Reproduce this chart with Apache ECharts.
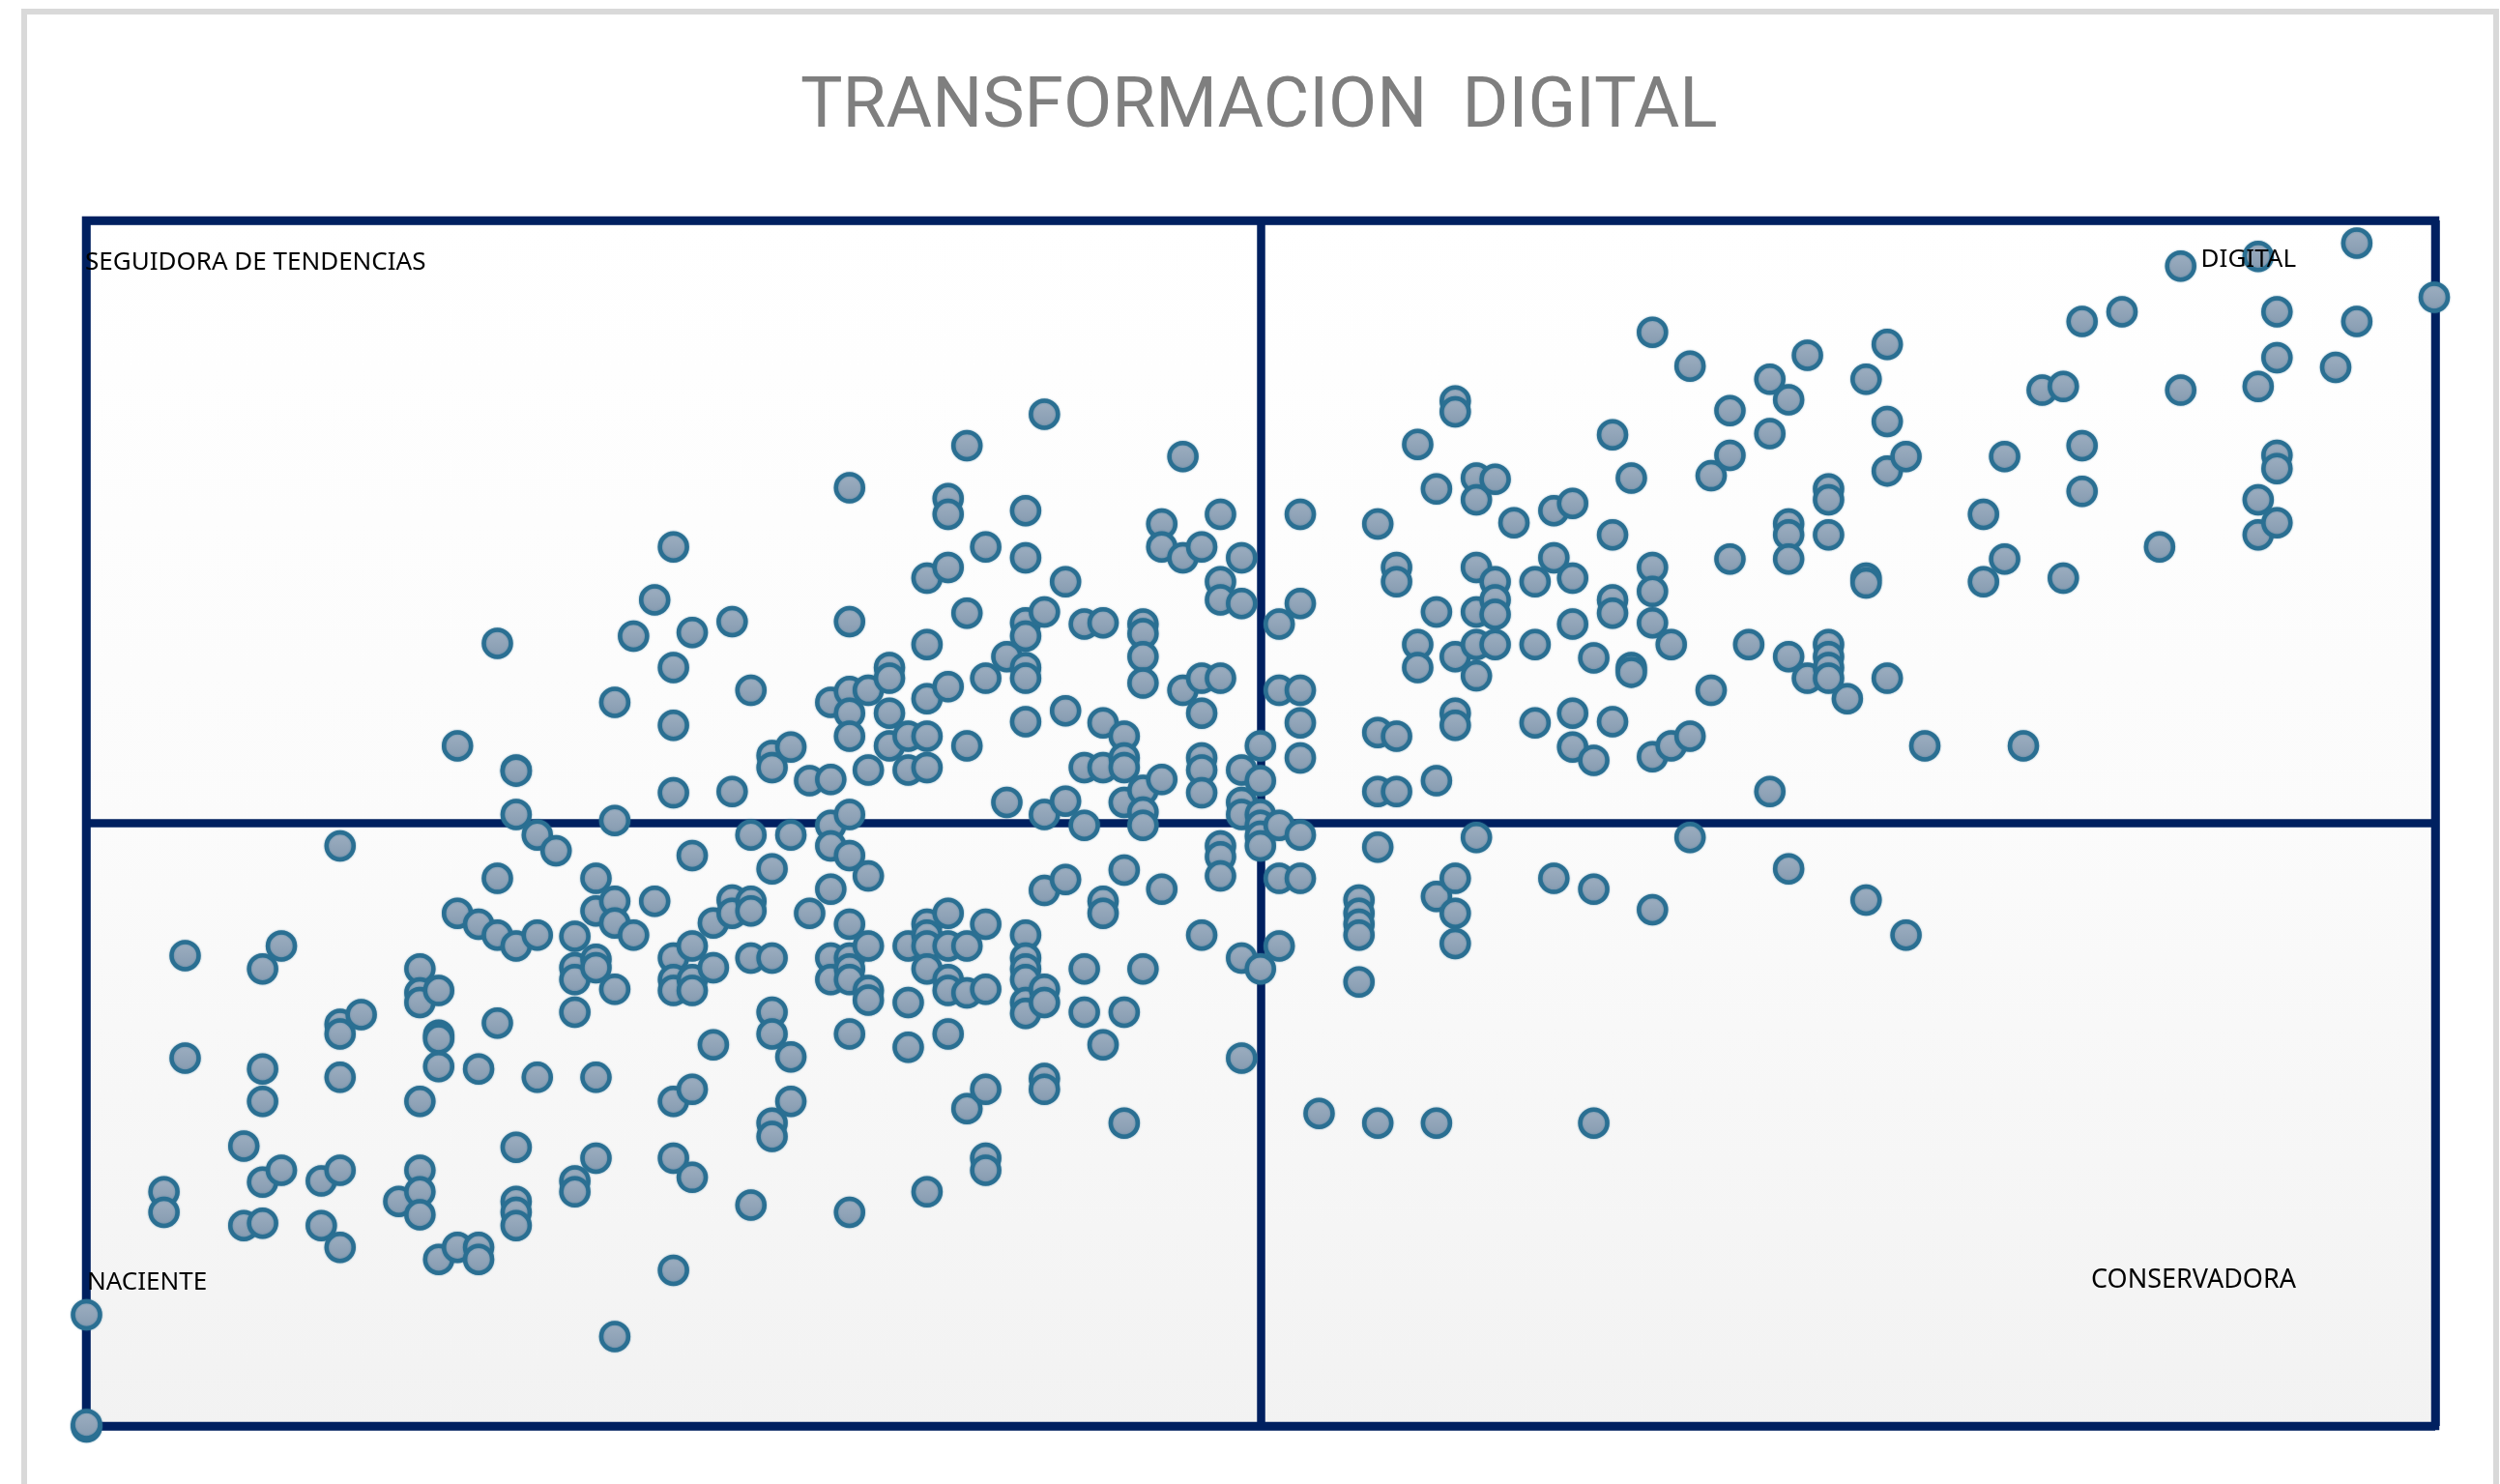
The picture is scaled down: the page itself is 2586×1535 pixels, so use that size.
<!DOCTYPE html>
<html>
<head>
<meta charset="utf-8">
<title>TRANSFORMACION DIGITAL</title>
<script src="https://cdn.jsdelivr.net/npm/echarts@6/dist/echarts.min.js"></script>
<style>
  html, body { margin: 0; padding: 0; background: #fff; }
  #chart { width: 2586px; height: 1535px; }
</style>
</head>
<body>
<div id="chart"></div>
<script>
// puntaje horizontal de cada columna de puntos (0-100)
const columnX = [
  0, 3.3, 4.2, 6.7, 7.5, 8.3, 10, 10.8, 11.7, 13.3, 14.2, 15, 15.8, 16.7, 17.5, 18.3, 19.2, 20, 20.8, 21.7,
  22.5, 23.3, 24.2, 25, 25.8, 26.7, 27.5, 28.3, 29.2, 30, 30.8, 31.7, 32.5, 33.3, 34.2, 35, 35.8, 36.7, 37.5, 38.3,
  39.2, 40, 40.8, 41.7, 42.5, 43.3, 44.2, 45, 45.8, 46.7, 47.5, 48.3, 49.2, 50, 50.8, 51.7, 52.5, 54.2, 55, 55.8,
  56.7, 57.5, 58.3, 59.2, 60, 60.8, 61.7, 62.5, 63.3, 64.2, 65, 65.8, 66.7, 67.5, 68.3, 69.2, 70, 70.8, 71.7, 72.5,
  73.3, 74.2, 75, 75.8, 76.7, 77.5, 78.3, 80.8, 81.7, 82.5, 83.3, 84.2, 85, 86.7, 88.3, 89.2, 92.5, 93.3, 95.8, 96.7, 100
]
// puntaje vertical de los puntos de cada columna, en el mismo orden
const columnY = [
  [9.3, 0, 0.2], [19.5, 17.8], [39.1, 30.6], [23.3, 16.7], [38, 29.7, 27, 20.3, 16.9], [39.9, 21.3], [20.4, 16.7],
  [48.2, 33.4, 32.6, 29, 21.3, 14.9], [34.2], [18.7], [38, 36, 35.2, 27, 21.3, 19.5, 17.6], [36.2, 32.5, 32.2, 29.9, 13.9],
  [56.5, 42.6, 14.9], [41.7, 29.7, 14.9, 13.9], [65, 45.5, 40.8, 33.5], [54.5, 54.4, 50.8, 39.9, 23.2, 18.7, 17.8, 16.7],
  [49.1, 40.8, 29], [47.8], [40.7, 38.1, 37.1, 34.4, 20.4, 19.5], [45.5, 42.8, 38.8, 38.1, 29, 22.3],
  [60.1, 50.3, 43.6, 41.8, 36.3, 7.5], [65.6, 40.8], [68.6, 43.6], [73, 63, 58.2, 52.6, 38.9, 37.1, 36.2, 27, 22.3, 13],
  [65.9, 47.4, 39.9, 37.1, 36.2, 28, 20.7], [41.8, 38.1, 31.7], [66.8, 52.7, 43.7, 42.6], [61.1, 49.1, 43.6, 42.8, 38.9, 18.4],
  [55.7, 54.7, 46.3, 38.9, 34.4, 32.6, 25.2, 24.1], [56.4, 49.1, 30.7, 27], [53.6, 42.6], [60.1, 53.7, 49.9, 48.2, 44.6, 38.9, 37.1],
  [77.9, 66.8, 61, 59.2, 57.3, 50.8, 47.4, 41.7, 38.9, 38, 37.1, 32.6, 17.8], [61.1, 54.5, 45.7, 39.9, 36.2, 35.4],
  [63, 62.1, 59.2, 56.5], [57.3, 54.5, 39.9, 35.2, 31.5], [70.4, 64.9, 60.4, 57.3, 54.7, 41.7, 40.8, 39.9, 38, 19.5],
  [77, 75.7, 71.3, 61.4, 42.6, 39.9, 37.1, 36.2, 32.6], [81.4, 67.5, 56.5, 39.9, 36, 26.4], [73, 62.1, 41.7, 36.3, 28, 22.3, 21.3],
  [63.9, 51.8], [76, 72.1, 66.7, 65.6, 63, 62.1, 58.5, 40.8, 38.9, 38, 37.1, 35.2, 34.3], [84, 67.6, 50.8, 44.5, 36.3, 35.2, 28.9, 28],
  [70.1, 59.4, 51.9, 45.4], [66.6, 54.7, 49.9, 38, 34.4], [66.7, 58.4, 54.7, 43.6, 42.6, 31.7], [57.3, 55.5, 54.7, 51.8, 46.2, 34.4, 25.2],
  [66.6, 65.8, 63.9, 61.7, 52.8, 51, 49.9, 38], [74.9, 73, 53.7, 44.6], [80.5, 72.1, 61.1], [73, 62.1, 59.2, 55.5, 54.5, 52.6, 40.8],
  [75.7, 70.1, 68.6, 62.1, 48.2, 47.3, 45.7], [72.1, 68.3, 54.5, 51.8, 50.8, 38.9, 30.6], [56.5, 53.6, 50.8, 49.9, 49, 48.2, 38],
  [66.6, 61.1, 49.9, 45.5, 39.9], [75.7, 68.3, 61.1, 58.4, 55.5, 49.1, 45.5], [26], [43.7, 42.6, 41.7, 40.8, 36.9],
  [74.9, 57.6, 52.7, 48.1, 25.2], [71.3, 70.1, 57.3, 52.7], [81.5, 64.9, 63], [77.8, 67.6, 53.6, 44, 25.2],
  [85.1, 84.2, 63.9, 59.2, 58.2, 45.5, 42.6, 40.1], [78.7, 76.9, 71.3, 67.6, 64.9, 62.3, 48.9], [78.6, 70.1, 68.6, 67.4, 64.9], [75],
  [70.1, 64.9, 58.4], [76, 72.1, 45.5], [76.6, 70.4, 66.6, 59.2, 56.4], [63.8, 55.3, 44.6, 25.2], [82.3, 74, 68.6, 67.5, 58.5],
  [78.7, 63, 62.6], [90.8, 71.3, 69.3, 66.7, 55.6, 42.9], [64.9, 56.5], [88, 57.3, 48.9], [78.9, 61.1], [84.3, 80.6, 72], [64.9],
  [86.9, 82.4, 52.7], [85.2, 74.9, 74, 72, 63.9, 46.3], [88.9, 62.1], [77.8, 76.9, 74, 64.9, 63.9, 63, 62.1], [60.4],
  [86.9, 70.4, 70, 43.7], [89.8, 83.4, 79.3, 62.1], [80.5, 40.8], [56.5], [75.7, 70.1], [80.5, 72], [56.5], [86], [86.3, 70.4],
  [91.7, 81.4, 77.6], [92.5], [73], [96.3, 86], [97.1, 86.3, 76.9, 74], [92.5, 88.7, 80.6, 79.5, 75], [87.9], [98.2, 91.7], [93.7]
]
const TITLE = 'TRANSFORMACION  DIGITAL'
const QUADRANTS = ['SEGUIDORA DE TENDENCIAS', 'DIGITAL', 'NACIENTE', 'CONSERVADORA']

const NAVY = '#002060'
const points = []
columnX.forEach((x, i) => {
  columnY[i].forEach(y => points.push([x, y]))
})

const myChart = echarts.init(document.getElementById('chart'))

const quadrantText = (text, pos, align, size) => ({
  type: 'text',
  z: 100,
  ...pos,
  style: {
    text,
    fill: '#000',
    font: size + 'px "Noto Sans"',
    textAlign: align,
    textVerticalAlign: 'middle'
  }
})

// ejes sin marcas: el primero dibuja el marco y las cruces, el segundo ubica los puntos
const frameAxis = {
  type: 'value',
  gridIndex: 0,
  min: 0,
  max: 100,
  interval: 50,
  axisLine: { show: false },
  axisTick: { show: false },
  axisLabel: { show: false },
  splitLine: { lineStyle: { color: NAVY, width: 8.5 } }
}
const pointAxis = {
  type: 'value',
  gridIndex: 1,
  min: 0,
  max: 100,
  show: false
}

myChart.setOption({
  animation: false,
  backgroundColor: '#fff',
  title: {
    text: TITLE,
    left: 823,
    top: 71,
    textStyle: {
      color: '#7f7f7f',
      fontFamily: 'Roboto',
      fontWeight: 'normal',
      fontSize: 73
    }
  },
  grid: [
    {
      show: true,
      left: 89,
      right: 67,
      top: 228,
      bottom: 60,
      borderColor: NAVY,
      borderWidth: 8.5,
      backgroundColor: new echarts.graphic.LinearGradient(0, 0, 0, 1, [
        { offset: 0, color: '#ffffff' },
        { offset: 0.5, color: '#fbfbfb' },
        { offset: 1, color: '#f2f2f2' }
      ])
    },
    { left: 89.5, right: 68, top: 229, bottom: 59 }
  ],
  xAxis: [frameAxis, pointAxis],
  yAxis: [frameAxis, pointAxis],
  series: [
    {
      type: 'scatter',
      xAxisIndex: 1,
      yAxisIndex: 1,
      data: points,
      clip: false,
      symbol: 'circle',
      symbolSize: 28,
      itemStyle: {
        opacity: 1,
        color: new echarts.graphic.LinearGradient(0, 0, 0, 1, [
          { offset: 0, color: '#9fb0c2' },
          { offset: 1, color: '#8399af' }
        ]),
        borderColor: '#2a6f92',
        borderWidth: 4.5,
        shadowColor: 'rgba(42,111,146,0.6)',
        shadowBlur: 2
      }
    }
  ],
  graphic: [
    {
      type: 'rect',
      z: -1,
      shape: { x: 25, y: 12, width: 2557, height: 1600 },
      style: { fill: 'none', stroke: '#d9d9d9', lineWidth: 6 }
    },
    quadrantText(QUADRANTS[0], { x: 88, y: 272 }, 'left', 26),
    quadrantText(QUADRANTS[1], { x: 2375, y: 269 }, 'right', 26),
    quadrantText(QUADRANTS[2], { x: 90, y: 1327 }, 'left', 26),
    quadrantText(QUADRANTS[3], { x: 2375, y: 1324 }, 'right', 27)
  ]
})
</script>
</body>
</html>
